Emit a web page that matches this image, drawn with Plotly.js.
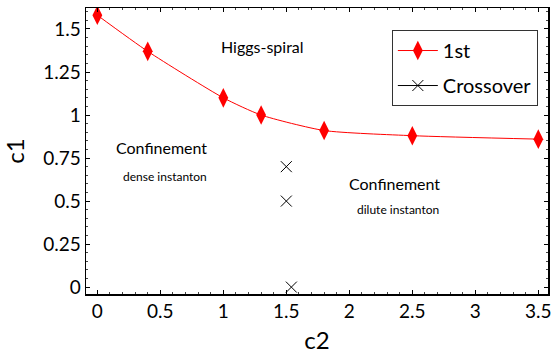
<!DOCTYPE html>
<html>
<head>
<meta charset="utf-8">
<script src="https://cdn.plot.ly/plotly-3.0.1.min.js"></script>
<style>html,body{margin:0;padding:0;background:#fff;}#chart{width:554px;height:356px;}</style>
</head>
<body>
<div id="chart"></div>
<script>
// First-order transition line
const firstC2 = [0, 0.4, 1.0, 1.3, 1.8, 2.5, 3.5];
const firstC1 = [1.58, 1.37, 1.10, 1.00, 0.91, 0.88, 0.86];

// Crossover points
const crossC2 = [1.5, 1.5, 1.54];
const crossC1 = [0.70, 0.50, 0.0];

const xTickVals = [0, 0.5, 1, 1.5, 2, 2.5, 3, 3.5];
const xTickText = ['0', '0.5', '1', '1.5', '2', '2.5', '3', '3.5'];
const yTickVals = [0, 0.25, 0.5, 0.75, 1, 1.25, 1.5];
const yTickText = ['0', '0.25', '0.5', '0.75', '1', '1.25', '1.5'];

const FONT = 'Lato, "Open Sans", sans-serif';

// Separate the crossover points with gaps so no connecting segments are drawn,
// while the legend still shows the line-and-marker symbol.
const gapped = arr => arr.flatMap((v, i) => (i < arr.length - 1 ? [v, null] : [v]));

const traces = [
  {
    x: firstC2, y: firstC1, name: '1st', type: 'scatter', mode: 'lines+markers',
    legendgroup: 'a',
    line: {color: '#ff0000', width: 1, shape: 'spline', smoothing: 0.6},
    marker: {symbol: 'diamond-tall', size: 14, color: '#ff0000'}
  },
  {
    x: gapped(crossC2), y: gapped(crossC1), name: 'Crossover', type: 'scatter',
    mode: 'lines+markers', connectgaps: false, legendgroup: 'b',
    line: {color: '#000', width: 1},
    marker: {symbol: 'x-thin', size: 11, color: '#000', line: {color: '#000', width: 1}}
  }
];

const axisCommon = {
  showgrid: false, zeroline: false, showline: true, linecolor: '#000', linewidth: 1.5,
  mirror: 'allticks', ticks: 'inside', ticklen: 4, tickwidth: 1, tickcolor: '#000',
  tickfont: {family: FONT, size: 19, color: '#000'}, tickmode: 'array'
};

const layout = {
  width: 554, height: 356,
  margin: {l: 86, r: 6, t: 8, b: 62},
  paper_bgcolor: '#fff', plot_bgcolor: '#fff',
  font: {family: FONT, color: '#000'},
  showlegend: true,
  legend: {
    x: 0.662, y: 0.923, xanchor: 'left', yanchor: 'top',
    bgcolor: '#fff', bordercolor: '#333', borderwidth: 1,
    font: {family: FONT, size: 20, color: '#000'},
    itemwidth: 40, tracegroupgap: 6, traceorder: 'grouped'
  },
  xaxis: Object.assign({}, axisCommon, {
    range: [-0.09, 3.577], tickvals: xTickVals, ticktext: xTickText,
    minor: {dtick: 0.1, ticks: 'inside', ticklen: 2, tickcolor: '#444', showgrid: false},
    title: {text: 'c2', font: {family: FONT, size: 24, color: '#000'}, standoff: 11}
  }),
  yaxis: Object.assign({}, axisCommon, {
    range: [-0.04, 1.622], tickvals: yTickVals, ticktext: yTickText,
    minor: {dtick: 0.05, ticks: 'inside', ticklen: 2, tickcolor: '#444', showgrid: false},
    title: {text: 'c1', font: {family: FONT, size: 24, color: '#000'}, standoff: 14}
  }),
  annotations: [
    {x: 1.31, y: 1.40, text: 'Higgs-spiral', showarrow: false, font: {family: FONT, size: 16}},
    {x: 0.51, y: 0.81, text: 'Confinement', showarrow: false, font: {family: FONT, size: 16}},
    {x: 0.54, y: 0.645, text: 'dense instanton', showarrow: false, font: {family: FONT, size: 12}},
    {x: 2.36, y: 0.60, text: 'Confinement', showarrow: false, font: {family: FONT, size: 16}},
    {x: 2.385, y: 0.45, text: 'dilute instanton', showarrow: false, font: {family: FONT, size: 12}}
  ]
};

Plotly.newPlot('chart', traces, layout, {displayModeBar: false, staticPlot: true});
</script>
</body>
</html>
